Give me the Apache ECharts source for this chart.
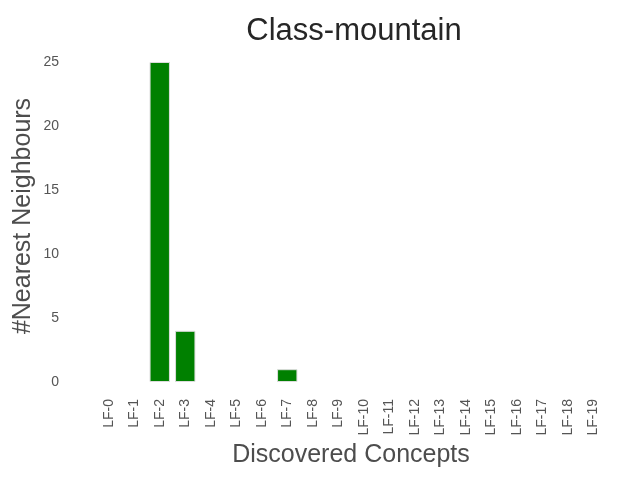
<!DOCTYPE html>
<html>
<head>
<meta charset="utf-8">
<script src="https://cdn.jsdelivr.net/npm/echarts@6/dist/echarts.min.js"></script>
<style>html,body{margin:0;padding:0;background:#fff}#c{width:640px;height:480px}</style>
</head>
<body>
<div id="c"></div>
<script>
const categories = ["LF-0","LF-1","LF-2","LF-3","LF-4","LF-5","LF-6","LF-7","LF-8","LF-9","LF-10","LF-11","LF-12","LF-13","LF-14","LF-15","LF-16","LF-17","LF-18","LF-19"];
const values = [0,0,25,4,0,0,0,1,0,0,0,0,0,0,0,0,0,0,0,0];
const yTicks = [0,5,10,15,20,25];

const FONT = 'Liberation Sans, Arial, sans-serif';
const chart = echarts.init(document.getElementById('c'), null, {renderer:'canvas'});
chart.setOption({
  backgroundColor: '#ffffff',
  animation: false,
  title: {
    text: 'Class-mountain',
    left: 349, top: 11, textAlign: 'center',
    textStyle: {fontFamily: FONT, fontSize: 31, fontWeight: 'normal', color: '#262626'}
  },
  grid: {left: 96, right: 34, top: 62, bottom: 98},
  xAxis: {
    type: 'category',
    data: categories,
    name: 'Discovered Concepts',
    nameLocation: 'middle',
    nameGap: 61,
    nameMoveOverlap: false,
    nameTextStyle: {fontFamily: FONT, fontSize: 25, color: '#4d4d4d'},
    axisLine: {show: false},
    axisTick: {show: false},
    splitLine: {show: false},
    axisLabel: {rotate: 90, margin: 17, interval: 0, fontFamily: FONT, fontSize: 14, color: '#555555'}
  },
  yAxis: {
    type: 'value',
    min: yTicks[0], max: yTicks[yTicks.length-1], interval: 5,
    name: '#Nearest Neighbours',
    nameLocation: 'middle',
    nameGap: 60,
    nameMoveOverlap: false,
    nameTextStyle: {fontFamily: FONT, fontSize: 25, color: '#4d4d4d', padding: [0, 0, 0, 12]},
    axisLine: {show: false},
    axisTick: {show: false},
    splitLine: {show: false},
    axisLabel: {margin: 37, fontFamily: FONT, fontSize: 14, color: '#555555'}
  },
  series: [{
    type: 'bar',
    data: values.map(v => (v === 0 ? '-' : v)),
    barWidth: '80%',
    itemStyle: {color: '#008000', borderColor: '#dcdcdc', borderWidth: 1}
  }]
});
</script>
</body>
</html>
